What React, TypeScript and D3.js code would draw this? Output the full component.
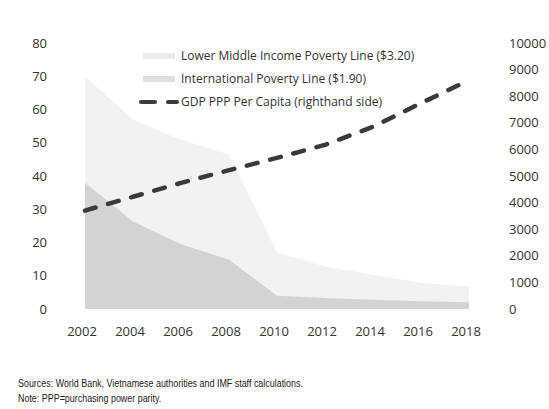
import React, { useEffect, useRef } from 'react';
import * as d3 from 'd3';

const years = [2002, 2004, 2006, 2008, 2010, 2012, 2014, 2016, 2018];
const lowerMiddle = [70, 57, 51, 46.5, 17, 12.8, 10.3, 7.9, 6.8];
const international = [38, 26.3, 19.5, 14.8, 4, 3.3, 2.8, 2.3, 2.0];
const gdpPpp = [3700, 4220, 4740, 5220, 5680, 6170, 6850, 7740, 8600];

const leftTicks = [0, 10, 20, 30, 40, 50, 60, 70, 80];
const rightTicks = [0, 1000, 2000, 3000, 4000, 5000, 6000, 7000, 8000, 9000, 10000];

const legendLabels = [
  'Lower Middle Income Poverty Line ($3.20)',
  'International Poverty Line ($1.90)',
  'GDP PPP Per Capita (righthand side)',
];

const notes = [
  'Sources: World Bank, Vietnamese authorities and IMF staff calculations.',
  'Note: PPP=purchasing power parity.',
];

const App: React.FC = () => {
  const svgRef = useRef<SVGSVGElement>(null);

  useEffect(() => {
    if (!svgRef.current) return;
    document.body.style.margin = '0';

    const width = 549;
    const height = 409;
    const font = "'Open Sans', 'Noto Sans', sans-serif";

    const svg = d3.select(svgRef.current)
      .attr('width', width)
      .attr('height', height);
    svg.selectAll('*').remove();

    const x = d3.scaleLinear().domain([2002, 2018]).range([85, 469]);
    const yLeft = d3.scaleLinear().domain([0, 80]).range([309, 43]);
    const yRight = d3.scaleLinear().domain([0, 10000]).range([309, 43]);

    // Areas
    const area = d3.area<number>()
      .x((_, i) => x(years[i]))
      .y0(yLeft(0))
      .y1(d => yLeft(d));

    svg.append('path')
      .datum(lowerMiddle)
      .attr('d', area)
      .attr('fill', '#f2f2f2');

    svg.append('path')
      .datum(international)
      .attr('d', area)
      .attr('fill', '#d3d3d3');

    // GDP line
    const line = d3.line<number>()
      .x((_, i) => x(years[i]))
      .y(d => yRight(d));

    svg.append('path')
      .datum(gdpPpp)
      .attr('d', line)
      .attr('fill', 'none')
      .attr('stroke', '#3a3a3a')
      .attr('stroke-width', 4.5)
      .attr('stroke-linecap', 'round')
      .attr('stroke-dasharray', '11,13');

    // Left axis labels
    svg.selectAll('.left-label')
      .data(leftTicks)
      .enter()
      .append('text')
      .attr('x', 47)
      .attr('y', d => yLeft(d))
      .attr('dy', '0.35em')
      .attr('text-anchor', 'end')
      .style('font-family', font)
      .style('font-size', '13px')
      .style('fill', '#333')
      .text(d => d);

    // Right axis labels
    svg.selectAll('.right-label')
      .data(rightTicks)
      .enter()
      .append('text')
      .attr('x', 509)
      .attr('y', d => yRight(d))
      .attr('dy', '0.35em')
      .attr('text-anchor', 'start')
      .style('font-family', font)
      .style('font-size', '13px')
      .style('fill', '#333')
      .text(d => d);

    // X axis labels
    svg.selectAll('.x-label')
      .data(years)
      .enter()
      .append('text')
      .attr('x', d => x(d) - 3)
      .attr('y', 331)
      .attr('dy', '0.35em')
      .attr('text-anchor', 'middle')
      .style('font-family', font)
      .style('font-size', '13px')
      .style('fill', '#333')
      .text(d => d);

    // Legend
    const legend = svg.append('g');
    const rowY = [56, 79, 102];
    const swatchColors = ['#ececec', '#e0e0e0'];

    swatchColors.forEach((c, i) => {
      legend.append('rect')
        .attr('x', 143)
        .attr('y', rowY[i] - 3)
        .attr('width', 32)
        .attr('height', 6)
        .attr('fill', c);
    });

    legend.append('line')
      .attr('x1', 141)
      .attr('x2', 177)
      .attr('y1', rowY[2])
      .attr('y2', rowY[2])
      .attr('stroke', '#3a3a3a')
      .attr('stroke-width', 4)
      .attr('stroke-linecap', 'round')
      .attr('stroke-dasharray', '14,13');

    legend.selectAll('.legend-label')
      .data(legendLabels)
      .enter()
      .append('text')
      .attr('x', 181)
      .attr('y', (_, i) => rowY[i])
      .attr('dy', '0.35em')
      .style('font-family', font)
      .style('font-size', '12px')
      .style('fill', '#333')
      .text(d => d);

    // Notes (condensed look)
    svg.append('g')
      .attr('transform', 'translate(18,0) scale(0.85,1)')
      .selectAll('.note')
      .data(notes)
      .enter()
      .append('text')
      .attr('x', 0)
      .attr('y', (_, i) => 383 + i * 15)
      .attr('dy', '0.35em')
      .style('font-family', "'Liberation Sans', Arial, sans-serif")
      .style('font-size', '10.5px')
      .style('fill', '#222')
      .text(d => d);
  }, []);

  return <svg ref={svgRef} style={{ display: 'block' }} />;
};

export default App;
